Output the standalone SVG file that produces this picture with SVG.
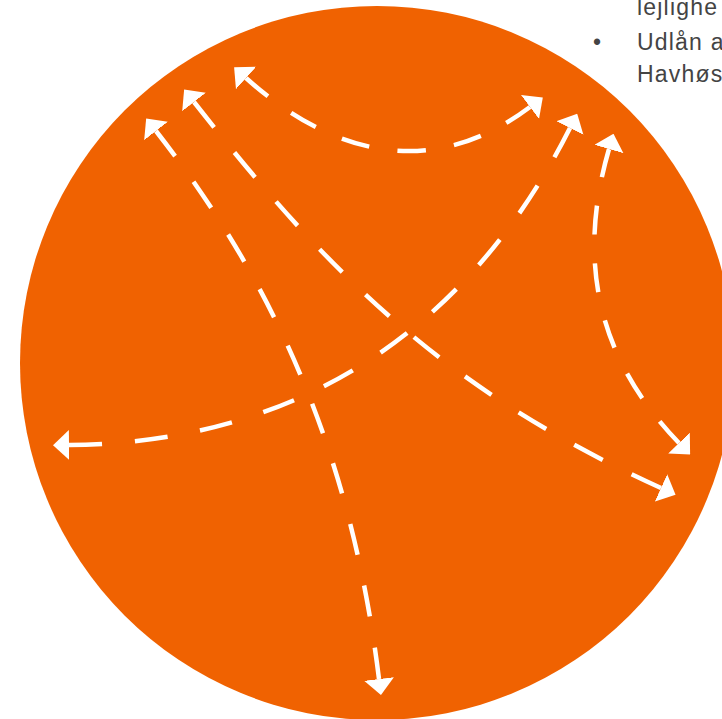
<svg xmlns="http://www.w3.org/2000/svg" width="722" height="719" viewBox="0 0 722 719">
  <style>
    .conn { fill: none; stroke: #ffffff; stroke-width: 4.5; stroke-dasharray: 1 1; stroke-linecap: butt; marker-start: url(#ah); marker-end: url(#ah); }
    .txt { font-family: "Liberation Sans", Arial, sans-serif; font-size: 23px; fill: #444444; letter-spacing: 1.2px; }
  </style>
  <defs>
    <marker id="ah" viewBox="0 -15 16 30" refX="0" refY="0" markerWidth="16" markerHeight="30" markerUnits="userSpaceOnUse" orient="auto-start-reverse">
      <path d="M0,-15 L16,0 L0,15 z" fill="#ffffff"/>
    </marker>
  </defs>
  <rect width="722" height="719" fill="#ffffff"/>
  <g id="text">
    <text class="txt" x="637" y="15">lejlighe</text>
    <text class="txt" x="593" y="50">•</text>
    <text class="txt" x="637" y="50">Udlån a</text>
    <text class="txt" x="637" y="82">Havhøs</text>
  </g>
  <g id="circle">
    <circle cx="377" cy="363" r="357" fill="#F06201"/>
  </g>
  <g id="connectors">
    <path class="conn" pathLength="11" d="M246,78 C335,158 434,179 530,107"/>
    <path class="conn" pathLength="19" d="M194,102 C335,282 450,392 661,488"/>
    <path class="conn" pathLength="19" d="M156,131 C273,281 351,451 379,679"/>
    <path class="conn" pathLength="19" d="M69,445 C285,443 462,342 570,128"/>
    <path class="conn" pathLength="11" d="M609,149 C577,259 596,357 679,443"/>
  </g>
</svg>
